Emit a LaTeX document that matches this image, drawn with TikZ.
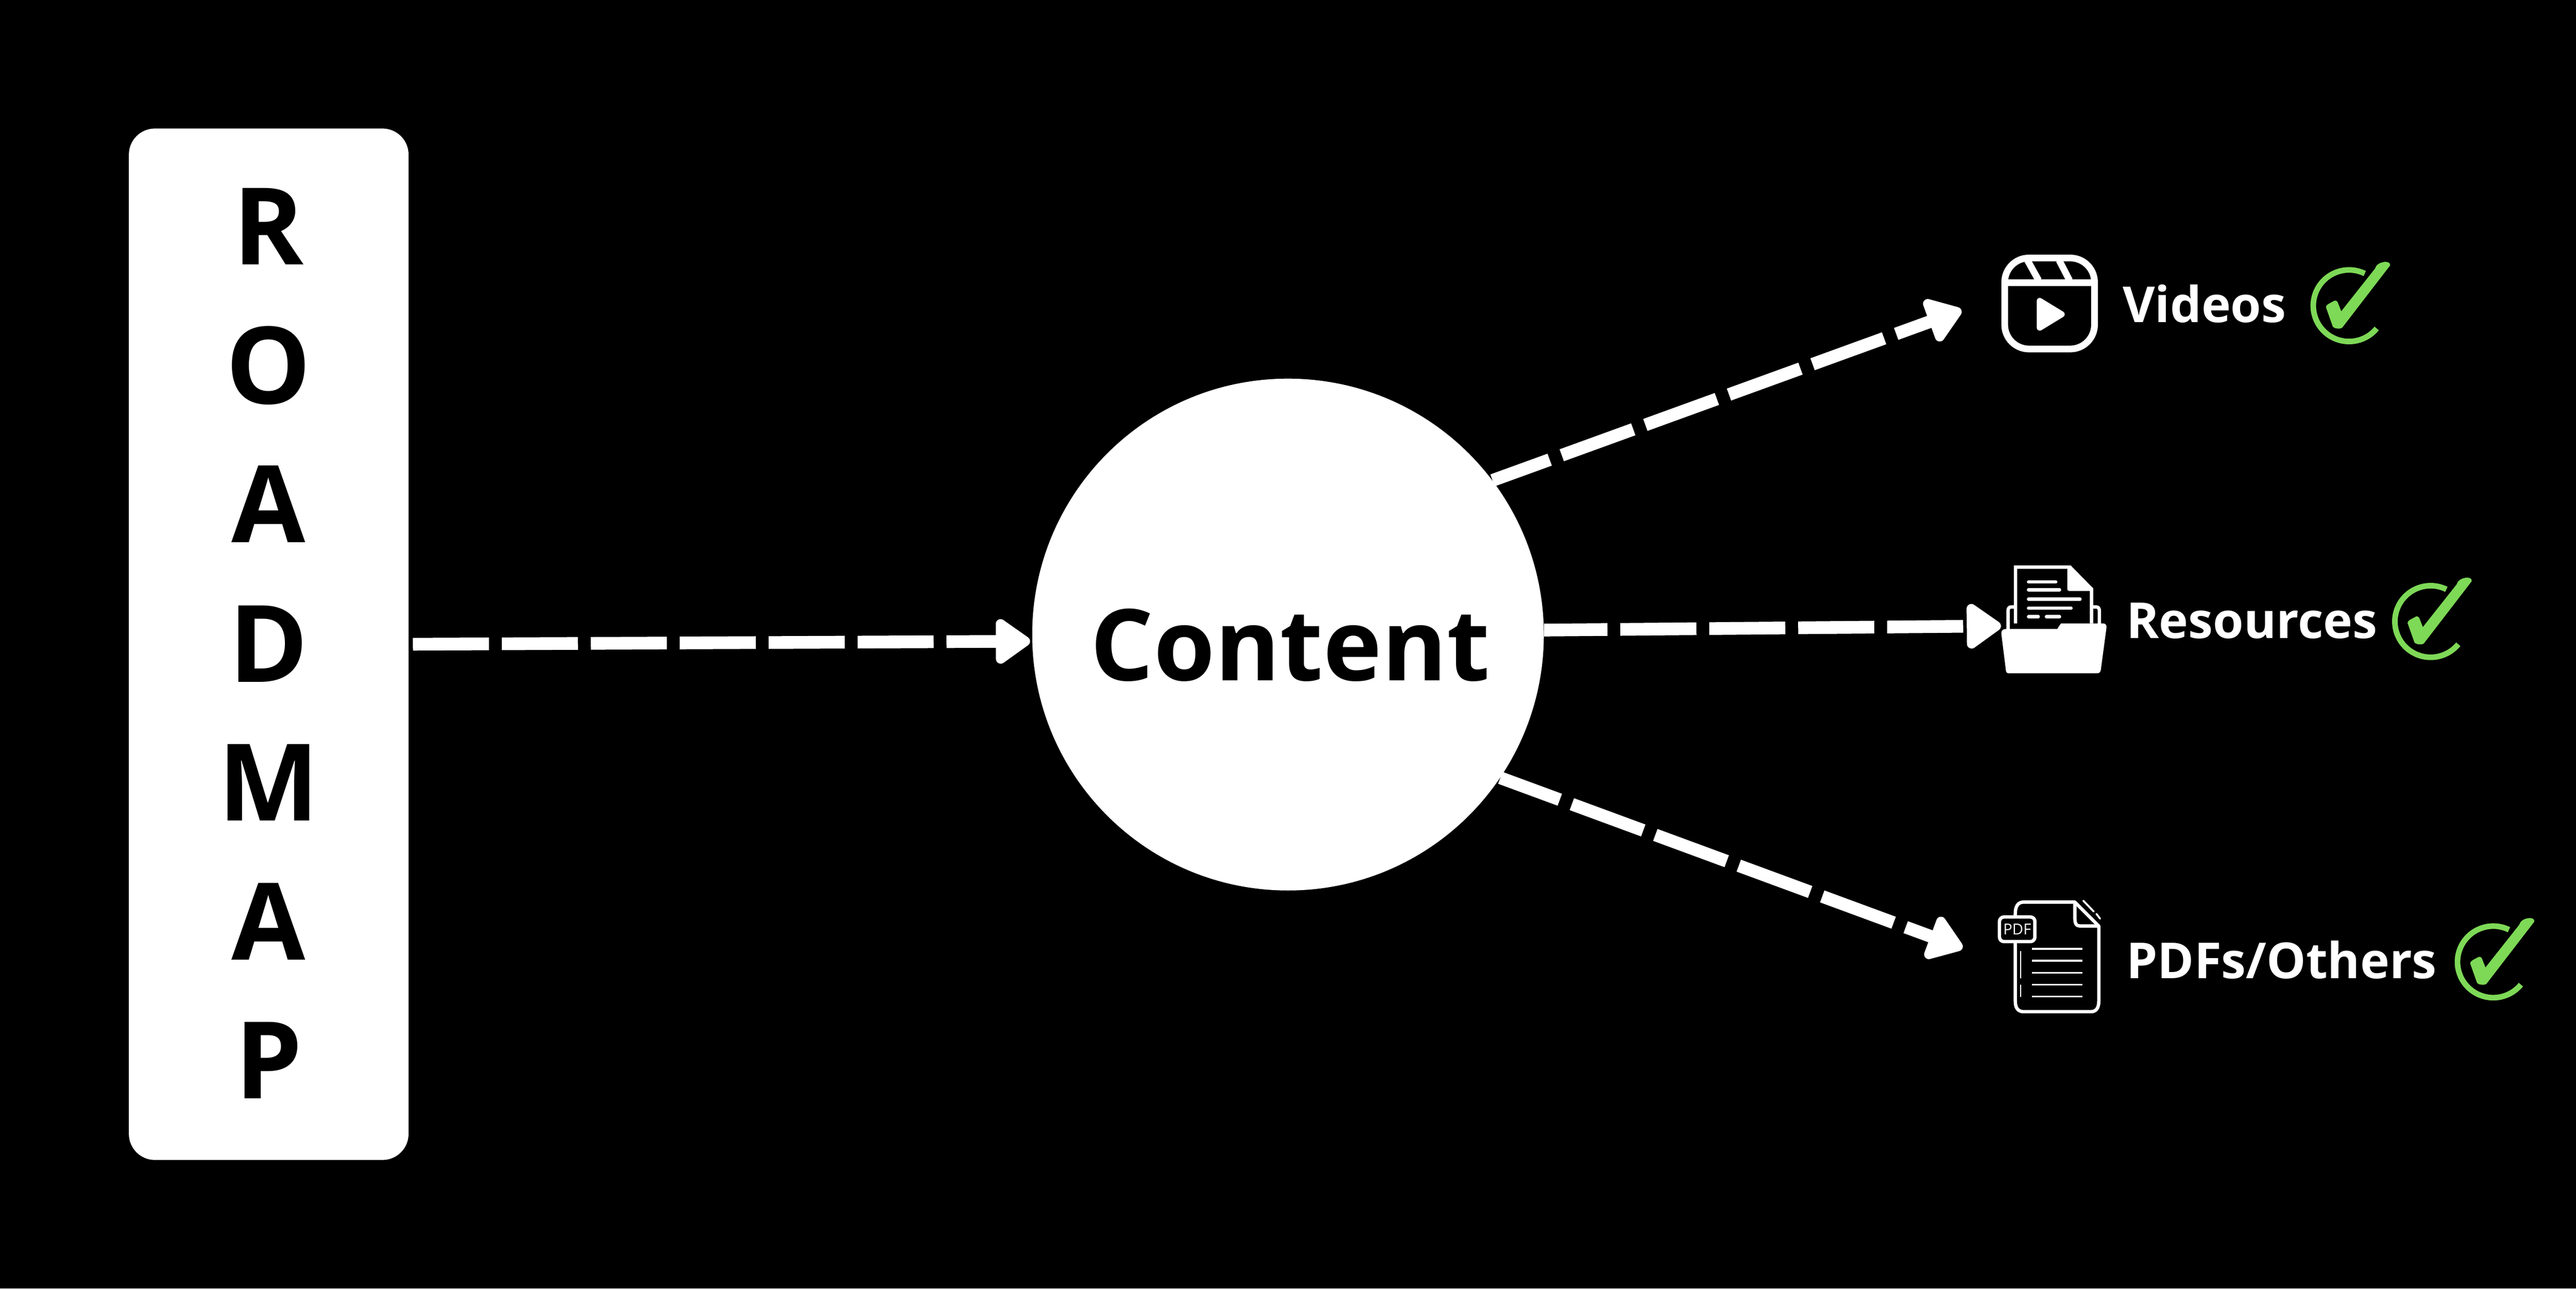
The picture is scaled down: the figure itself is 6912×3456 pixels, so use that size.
\documentclass[tikz,border=0pt]{standalone}
\usepackage{fontspec}
\setmainfont{Open Sans}
\usetikzlibrary{arrows.meta}
\definecolor{okgreen}{HTML}{7ED957}
\tikzset{
  panel/.style={fill=white,rectangle,rounded corners=.7cm,minimum width=7.5cm,minimum height=27.65cm,inner sep=0pt},
  hub/.style={fill=white,circle,minimum size=13.72cm,inner sep=0pt},
  letter/.style={anchor=base,inner sep=0pt,text=black,font=\bfseries\fontsize{81.66}{90}\selectfont},
  hubtext/.style={anchor=base,inner sep=0pt,text=black,font=\bfseries\fontsize{75.7}{85}\selectfont},
  item/.style={anchor=base west,inner sep=0pt,text=white,font=\bfseries\fontsize{37.84}{44}\selectfont},
  flow/.style={draw=white,line width=.34cm,dash pattern=on 2.04cm off .345cm,
    -{Triangle[round,length=1.02cm,width=1.36cm,line width=.3cm]}},
  thick icon/.style={draw=white,line width=.18cm},
  thin icon/.style={draw=white,line width=.09cm},
  bar icon/.style={draw=white,line width=.09cm,line cap=round},
  rule icon/.style={draw=white,line width=.05cm},
  okmark/.pic={
    \draw[okgreen,line width=.15cm] (96*0.438,-96*0.899) arc[start angle=-64,end angle=-320.5,radius=96];
    \fill[okgreen] (-17,57) -- (110,-108)
      .. controls (112,-116) and (100,-120) .. (88,-116)
      .. controls (78,-113) and (72,-108) .. (70,-100)
      -- (-21,15) -- (-30,-8)
      .. controls (-32,-14) and (-38,-15) .. (-42,-12)
      .. controls (-52,-6) and (-62,-3) .. (-62,4)
      -- (-44,55) .. controls (-42,62) and (-20,64) .. (-17,57) -- cycle;
  }
}
\begin{document}
\begin{tikzpicture}[x=.01cm,y=-.01cm]
\fill[black] (0,0) rectangle (6912,3456);
\useasboundingbox (0,0) rectangle (6912,3456);

% roadmap panel
\node[panel] (road) at (721,1728) {};
\node[letter] (l1) at (721,710) {R};
\node[letter] (l2) at (721,1083) {O};
\node[letter] (l3) at (721,1455) {A};
\node[letter] (l4) at (721,1829) {D};
\node[letter] (l5) at (721,2201) {M};
\node[letter] (l6) at (721,2574) {A};
\node[letter] (l7) at (721,2947) {P};

% hub
\node[hub] (content) at (3456,1702) {};
\node[hubtext] (contentlabel) at (3462,1826) {Content};

% free ends of connectors
\coordinate (toHub) at (2764,1720);
\coordinate (toVideos) at (5263,832);
\coordinate (toResources) at (5369,1679);
\coordinate (toPdf) at (5266,2543);

\draw[flow,shorten <=.11cm] (road.east) -- (toHub);
\draw[flow,dash phase=.41cm] (content.37) -- (toVideos);
\draw[flow,dash phase=.34cm] (content.1.4) -- (toResources);
\draw[flow,dash phase=.34cm] (content.-34.2) -- (toPdf);

% video icon
\draw[thick icon,rounded corners=.65cm] (5379,692) rectangle (5620,936);
\draw[thick icon] (5379,758) -- (5620,758);
\draw[thick icon] (5440,698) -- (5470,752);
\draw[thick icon] (5525,698) -- (5553,752);
\draw[draw=white,fill=white,line width=.16cm,line join=round] (5473,807) -- (5473,879) -- (5532,843) -- cycle;

% folder icon
\draw[thin icon,fill=black] (5408,1672) -- (5408,1521) -- (5554,1521) -- (5612,1580) -- (5612,1672);
\fill[white] (5547,1526) -- (5556,1518) -- (5616,1578) -- (5616,1585) -- (5552,1585) .. controls (5549,1585) and (5547,1583) .. (5547,1580) -- cycle;
\draw[bar icon] (5443,1561) -- (5516,1561);
\draw[bar icon] (5443,1582) -- (5526,1582);
\draw[bar icon] (5443,1607) -- (5581,1607);
\draw[bar icon] (5443,1631) -- (5557,1631);
\draw[bar icon] (5443,1654) -- (5469,1654);
\draw[bar icon] (5491,1654) -- (5526,1654);
\draw[thin icon] (5404,1628) -- (5396,1628) .. controls (5391,1628) and (5388,1632) .. (5388,1638) -- (5388,1690);
\draw[thin icon] (5616,1628) -- (5625,1628) .. controls (5630,1628) and (5633,1632) .. (5633,1638) -- (5633,1675);
\fill[white] (5382,1687) -- (5520,1687) -- (5530,1672) -- (5642,1672)
  .. controls (5649,1672) and (5653,1676) .. (5652,1684)
  -- (5637,1796) .. controls (5636,1803) and (5633,1806) .. (5626,1806)
  -- (5391,1806) .. controls (5385,1806) and (5382,1803) .. (5382,1796)
  -- (5370,1700) .. controls (5369,1692) and (5374,1687) .. (5382,1687) -- cycle;

% pdf icon
\draw[thin icon,line join=round] (5567,2419.5) -- (5430,2419.5)
  .. controls (5414,2419.5) and (5407.5,2432) .. (5407.5,2450)
  -- (5407.5,2685) .. controls (5407.5,2703) and (5414,2713.5) .. (5430,2713.5)
  -- (5610,2713.5) .. controls (5625,2713.5) and (5631.5,2703) .. (5631.5,2685)
  -- (5631.5,2484) -- cycle;
\draw[thin icon,line join=round] (5567.5,2424) -- (5567.5,2465)
  .. controls (5567.5,2477) and (5571,2483.5) .. (5580,2483.5) -- (5631,2483.5);
\draw[rule icon,line cap=round] (5590,2416) -- (5618,2445);
\draw[rule icon,line cap=round] (5625,2451) -- (5635,2464);
\draw[rule icon] (5452,2545) -- (5587,2545);
\draw[rule icon] (5452,2577) -- (5587,2577);
\draw[rule icon] (5452,2609) -- (5587,2609);
\draw[rule icon] (5452,2641) -- (5587,2641);
\draw[rule icon] (5452,2673) -- (5587,2673);
\draw[draw=white,line width=.035cm,line cap=round] (5422,2552) -- (5422,2623);
\draw[draw=white,line width=.035cm,line cap=round] (5422,2642) -- (5422,2673);
\draw[thin icon,fill=black,rounded corners=.12cm] (5365,2459.5) rectangle (5460,2525.5);
\node[inner sep=0pt,text=white,font=\fontsize{11.5}{13}\selectfont] (pdftag) at (5412.5,2492.5) {PDF};

% items
\node[item] (videos) at (5695,865) {Videos};
\node[item] (resources) at (5705,1712) {Resources};
\node[item] (others) at (5705,2625) {PDFs/Others};

\pic at (6303,820) {okmark};
\pic at (6522,1667) {okmark};
\pic at (6690,2580) {okmark};
\end{tikzpicture}
\end{document}
